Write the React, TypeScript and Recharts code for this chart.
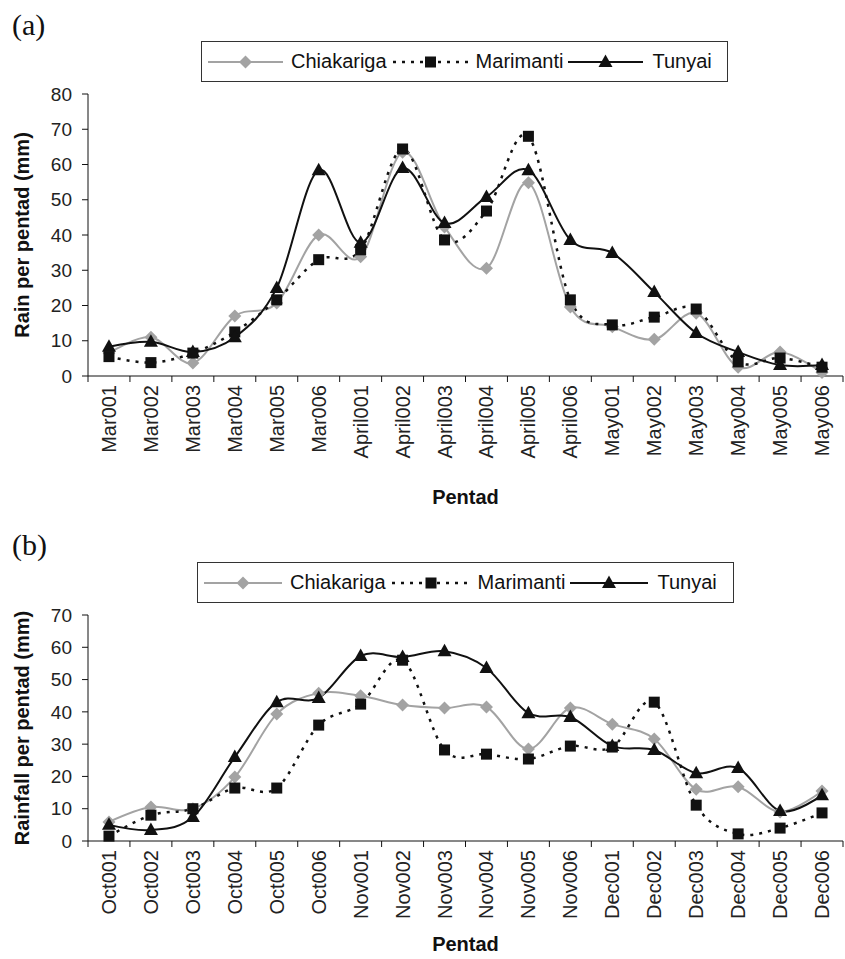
import { LineChart, Line, XAxis, YAxis } from 'recharts'

const pentadsA = ['Mar001', 'Mar002', 'Mar003', 'Mar004', 'Mar005', 'Mar006', 'April001', 'April002', 'April003', 'April004', 'April005', 'April006', 'May001', 'May002', 'May003', 'May004', 'May005', 'May006']
const chiakarigaA = [6.5, 11, 3.7, 17, 20.7, 40, 33.8, 63.5, 42.3, 30.6, 54.8, 19.6, 14, 10.4, 17.8, 2.5, 6.8, 1]
const marimantiA = [5.5, 3.8, 6.5, 12.5, 21.6, 33, 35.8, 64.4, 38.6, 46.8, 68, 21.6, 14.5, 16.7, 19, 4, 5.1, 2.5]
const tunyaiA = [8.3, 9.7, 6.8, 11, 25, 58.4, 37.8, 59, 43.4, 50.8, 58.4, 38.6, 34.9, 23.8, 12.2, 6.8, 3.1, 3.1]
const ticksA = [0, 10, 20, 30, 40, 50, 60, 70, 80]

const pentadsB = ['Oct001', 'Oct002', 'Oct003', 'Oct004', 'Oct005', 'Oct006', 'Nov001', 'Nov002', 'Nov003', 'Nov004', 'Nov005', 'Nov006', 'Dec001', 'Dec002', 'Dec003', 'Dec004', 'Dec005', 'Dec006']
const chiakarigaB = [5.9, 10.5, 10, 19.8, 39.3, 45.8, 45, 42.1, 41.2, 41.5, 28.5, 41.2, 36.2, 31.6, 16, 16.8, 9, 15.5]
const marimantiB = [1.5, 8, 10, 16.4, 16.4, 35.9, 42.4, 56, 28.2, 26.9, 25.4, 29.4, 29.1, 43, 11.1, 2.2, 4, 8.7]
const tunyaiB = [5, 3.4, 7.4, 26, 43, 44.3, 57.3, 57, 58.8, 53.6, 39.6, 38.4, 29.4, 28.2, 21, 22.6, 9.3, 14.2]
const ticksB = [0, 10, 20, 30, 40, 50, 60, 70]

const FONT = '"Liberation Sans", Arial, Helvetica, sans-serif'
const GREY = '#a3a3a3'
const INK = '#111'
const FRAME = '#a8a8a8'
const PLOT_L = 88
const PLOT_R = 843
const BAND = (PLOT_R - PLOT_L) / 18

// Excel's "smoothed line" is basically a cardinal spline with tension 0
function excelSmooth(ctx: any) {
  let x0 = NaN, y0 = NaN, x1 = NaN, y1 = NaN, x2 = NaN, y2 = NaN, n = 0
  const seg = (x: number, y: number) =>
    ctx.bezierCurveTo(x1 + (x2 - x0) / 6, y1 + (y2 - y0) / 6, x2 + (x1 - x) / 6, y2 + (y1 - y) / 6, x2, y2)
  return {
    areaStart() {},
    areaEnd() {},
    lineStart() {
      x0 = x1 = x2 = y0 = y1 = y2 = NaN
      n = 0
    },
    lineEnd() {
      if (n === 2) ctx.lineTo(x2, y2)
      else if (n === 3) seg(x1, y1)
    },
    point(x: number, y: number) {
      if (n === 0) {
        n = 1
        ctx.moveTo(x, y)
      } else if (n === 1) {
        n = 2
        x1 = x
        y1 = y
      } else {
        n = 3
        seg(x, y)
      }
      x0 = x1; x1 = x2; x2 = x
      y0 = y1; y1 = y2; y2 = y
    },
  }
}

function diamondDot(p: any) {
  const { cx, cy, index } = p
  const r = 6.5
  return <path key={`dia-${index}`} d={`M${cx},${cy - r}L${cx + r},${cy}L${cx},${cy + r}L${cx - r},${cy}Z`} fill={GREY} />
}

function squareDot(p: any) {
  const { cx, cy, index } = p
  return <rect key={`sq-${index}`} x={cx - 5.5} y={cy - 5.5} width={11} height={11} fill={INK} />
}

function triangleDot(p: any) {
  const { cx, cy, index } = p
  return <path key={`tri-${index}`} d={`M${cx},${cy - 7.5}L${cx + 7},${cy + 5}L${cx - 7},${cy + 5}Z`} fill={INK} />
}

function PentadTick(p: any) {
  const { x, y, payload, index } = p
  const ty = y + 9
  return (
    <g>
      <line x1={x - BAND / 2} x2={x - BAND / 2} y1={y} y2={y + 6} stroke={INK} />
      {index === 17 && <line x1={x + BAND / 2} x2={x + BAND / 2} y1={y} y2={y + 6} stroke={INK} />}
      <text x={x} y={ty} transform={`rotate(-90 ${x} ${ty})`} textAnchor="end" dy="0.35em" fontSize={20} fontFamily={FONT} fill="#222">
        {payload.value}
      </text>
    </g>
  )
}

function AxisTitle({ tx, ty, text, vertical }: any) {
  return (
    <text
      x={tx}
      y={ty}
      transform={vertical ? `rotate(-90 ${tx} ${ty})` : undefined}
      textAnchor="middle"
      dominantBaseline={vertical ? 'central' : undefined}
      fontSize={20}
      fontWeight="bold"
      fontFamily={FONT}
      fill="#111"
    >
      {text}
    </text>
  )
}

function LegendKey({ kind, w }: { kind: string; w: number }) {
  const m = w / 2
  return (
    <svg width={w} height={20} style={{ display: 'block' }}>
      {kind === 'c' && (
        <>
          <line x1={0} x2={w} y1={10} y2={10} stroke={GREY} strokeWidth={2} />
          <path d={`M${m},3.5L${m + 6.5},10L${m},16.5L${m - 6.5},10Z`} fill={GREY} />
        </>
      )}
      {kind === 'm' && (
        <>
          <line x1={0} x2={w} y1={10} y2={10} stroke={INK} strokeWidth={2.5} strokeDasharray="3 6" />
          <rect x={m - 5.5} y={4.5} width={11} height={11} fill={INK} />
        </>
      )}
      {kind === 't' && (
        <>
          <line x1={0} x2={w} y1={10} y2={10} stroke={INK} strokeWidth={2} />
          <path d={`M${m},2.5L${m + 7},15L${m - 7},15Z`} fill={INK} />
        </>
      )}
    </svg>
  )
}

function LegendBox({ left, top, width, iconW }: any) {
  return (
    <div
      style={{
        position: 'absolute',
        left,
        top,
        width,
        height: 41,
        boxSizing: 'border-box',
        border: '1px solid #333',
        background: '#fff',
        display: 'flex',
        alignItems: 'center',
        paddingLeft: 6,
        fontFamily: FONT,
        fontSize: 20,
        color: '#111',
        whiteSpace: 'nowrap',
      }}
    >
      <LegendKey kind="c" w={iconW} />
      <span style={{ marginLeft: 8, marginRight: 6 }}>Chiakariga</span>
      <LegendKey kind="m" w={iconW} />
      <span style={{ marginLeft: 8, marginRight: 5 }}>Marimanti</span>
      <LegendKey kind="t" w={iconW} />
      <span style={{ marginLeft: 9 }}>Tunyai</span>
    </div>
  )
}

function RainPanel({ tag, top, height, plotTop, axisH, yMax, yTicks, yTitle, pentadTitleY, pentads, chiakariga, marimanti, tunyai, legend }: any) {
  const data = pentads.map((p: string, i: number) => ({
    pentad: p,
    Chiakariga: chiakariga[i],
    Marimanti: marimanti[i],
    Tunyai: tunyai[i],
  }))
  const plotBottom = height - axisH
  return (
    <div style={{ position: 'absolute', left: 0, top, width: 845, height }}>
      <div style={{ position: 'absolute', left: 12, top: 10, fontFamily: '"Liberation Serif", "Times New Roman", serif', fontSize: 30, lineHeight: '30px', color: '#111' }}>
        {tag}
      </div>
      <LineChart width={845} height={height} data={data} margin={{ top: plotTop, right: 845 - PLOT_R, bottom: 0, left: 0 }}>
        <XAxis
          dataKey="pentad"
          height={axisH}
          interval={0}
          padding={{ left: BAND / 2, right: BAND / 2 }}
          tickSize={0}
          tickMargin={0}
          tickLine={false}
          axisLine={{ stroke: INK }}
          tick={(p: any) => <PentadTick {...p} />}
          label={<AxisTitle tx={(PLOT_L + PLOT_R) / 2} ty={pentadTitleY} text="Pentad" />}
        />
        <XAxis xAxisId="frame" dataKey="pentad" orientation="top" height={0} tick={false} tickLine={false} axisLine={{ stroke: FRAME }} />
        <YAxis
          type="number"
          width={PLOT_L}
          domain={[0, yMax]}
          ticks={yTicks}
          interval={0}
          tickSize={6}
          tickMargin={10}
          axisLine={{ stroke: INK }}
          tickLine={{ stroke: INK }}
          tick={{ fontSize: 19, fontFamily: FONT, fill: '#222' }}
          label={<AxisTitle tx={22} ty={(plotTop + plotBottom) / 2} text={yTitle} vertical />}
        />
        <YAxis yAxisId="frame" orientation="right" width={0} domain={[0, yMax]} tick={false} tickLine={false} axisLine={{ stroke: FRAME }} />
        <Line dataKey="Chiakariga" type={excelSmooth as any} stroke={GREY} strokeWidth={2} dot={diamondDot} activeDot={false} isAnimationActive={false} />
        <Line dataKey="Marimanti" type={excelSmooth as any} stroke={INK} strokeWidth={2.5} strokeDasharray="3 6" dot={squareDot} activeDot={false} isAnimationActive={false} />
        <Line dataKey="Tunyai" type={excelSmooth as any} stroke={INK} strokeWidth={2} dot={triangleDot} activeDot={false} isAnimationActive={false} />
      </LineChart>
      <LegendBox {...legend} />
    </div>
  )
}

export default function App() {
  return (
    <div style={{ position: 'absolute', left: 0, top: 0, width: 845, height: 959, background: '#fff', overflow: 'hidden' }}>
      <RainPanel
        tag="(a)"
        top={0}
        height={520}
        plotTop={94}
        axisH={144}
        yMax={80}
        yTicks={ticksA}
        yTitle="Rain per pentad (mm)"
        pentadTitleY={504}
        pentads={pentadsA}
        chiakariga={chiakarigaA}
        marimanti={marimantiA}
        tunyai={tunyaiA}
        legend={{ left: 201, top: 41, width: 527, iconW: 75 }}
      />
      <RainPanel
        tag="(b)"
        top={520}
        height={439}
        plotTop={95}
        axisH={118}
        yMax={70}
        yTicks={ticksB}
        yTitle="Rainfall per pentad (mm)"
        pentadTitleY={431}
        pentads={pentadsB}
        chiakariga={chiakarigaB}
        marimanti={marimantiB}
        tunyai={tunyaiB}
        legend={{ left: 197, top: 42, width: 537, iconW: 78 }}
      />
    </div>
  )
}
